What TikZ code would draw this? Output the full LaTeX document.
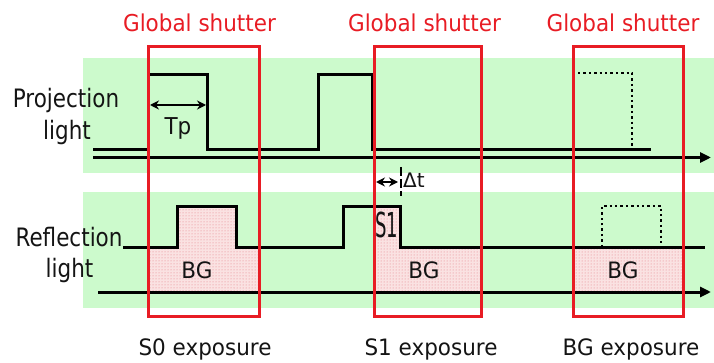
\documentclass[tikz,border=0pt]{standalone}
\usepackage{fontspec}
\setmainfont{DejaVu Sans}
\usetikzlibrary{patterns,arrows.meta}
\definecolor{bandgreen}{RGB}{204,250,204}
\definecolor{shutred}{RGB}{232,28,36}
\definecolor{bgpink}{RGB}{250,226,226}
\definecolor{dotpink}{RGB}{228,120,130}
\begin{document}
\begin{tikzpicture}[x=1pt,y=-1pt,
  txt/.style={font=\fontsize{21.5}{25}\selectfont, inner sep=0pt, anchor=base, text=black!92},
  redtxt/.style={txt, text=shutred},
  sig/.style={line width=3pt, line join=miter, line cap=butt},
  axisline/.style={line width=3pt, -{Triangle[length=11pt,width=10pt]}},
  dotsig/.style={line width=2.6pt, dash pattern=on 2.4pt off 3pt},
  shutter/.style={draw=shutred, line width=2.4pt, rectangle, inner sep=0pt, minimum height=270pt},
  bgregion/.style={fill=bgpink, postaction={pattern=dots, pattern color=dotpink}},
  meas/.style={line width=2.6pt, {Stealth[length=9pt,width=9pt]}-{Stealth[length=9pt,width=9pt]}},
]
\useasboundingbox (0,0) rectangle (714,363);
% green bands
\fill[bandgreen] (83,58) rectangle (714,173);
\fill[bandgreen] (83,192) rectangle (714,308);
% pink BG regions
\path[bgregion] (149,247) rectangle (259,292) (177,207) rectangle (236,247);
\path[bgregion] (375,247) rectangle (481,292) (375,207) rectangle (400,247);
\path[bgregion] (574,247) rectangle (683,292);
% projection light
\draw[sig] (93,150) -| (148,75) -| (207,150) -| (318,75) -| (372,150) -- (651,150);
\draw[axisline] (93,157.5) -- (711,157.5);
\draw[dotsig] (574,150) |- (632,73) -- (632,150);
% reflection light
\draw[sig] (123,247) -| (177,207) -| (236,247) -| (343,207) -| (400,247) -- (705,247);
\draw[axisline] (98,292) -- (711,292);
\draw[dotsig] (602,247) |- (661,206) -- (661,247);
% measures
\draw[meas] (150,105) -- (206,105);
\draw[meas] (376,182) -- (398,182);
\draw[line width=1.8pt, dash pattern=on 9pt off 3pt] (401,167) -- (401,196);
% shutter boxes
\node[shutter, minimum width=111pt] (sh1) at (204,181.5) {};
\node[shutter, minimum width=107pt] (sh2) at (428,181.5) {};
\node[shutter, minimum width=110pt] (sh3) at (628.5,181.5) {};
% titles
\node[redtxt] (g1) at (199.5,32) {\scalebox{1}[1.08]{Global shutter}};
\node[redtxt] (g2) at (424.5,32) {\scalebox{1}[1.08]{Global shutter}};
\node[redtxt] (g3) at (623,32) {\scalebox{1}[1.08]{Global shutter}};
% left labels
\node[txt] (proj) at (66,108) {\scalebox{1}[1.18]{Projection}};
\node[txt] (projl) at (67,140) {\scalebox{1}[1.18]{light}};
\node[txt] (refl) at (69,247) {\scalebox{1}[1.18]{Reflection}};
\node[txt] (refll) at (69.5,277) {\scalebox{1}[1.18]{light}};
% inner labels
\node[txt] (tp) at (178,135) {\scalebox{1}[1.08]{Tp}};
\node[txt] (bg1) at (197,278) {\scalebox{1}[1.05]{BG}};
\node[txt] (bg2) at (424,278) {\scalebox{1}[1.05]{BG}};
\node[txt] (bg3) at (623,278) {\scalebox{1}[1.05]{BG}};
\node[txt] (s1) at (386.5,237) {\scalebox{0.84}[1.6]{S1}};
\node[txt, anchor=base west, font=\fontsize{20}{24}\selectfont] (dt) at (403,188) {Δt};
% exposure labels
\node[txt] (e0) at (205,355) {\scalebox{1}[1.05]{S0 exposure}};
\node[txt] (e1) at (431,355) {\scalebox{1}[1.05]{S1 exposure}};
\node[txt] (e2) at (631,355) {\scalebox{1}[1.05]{BG exposure}};
\end{tikzpicture}
\end{document}
